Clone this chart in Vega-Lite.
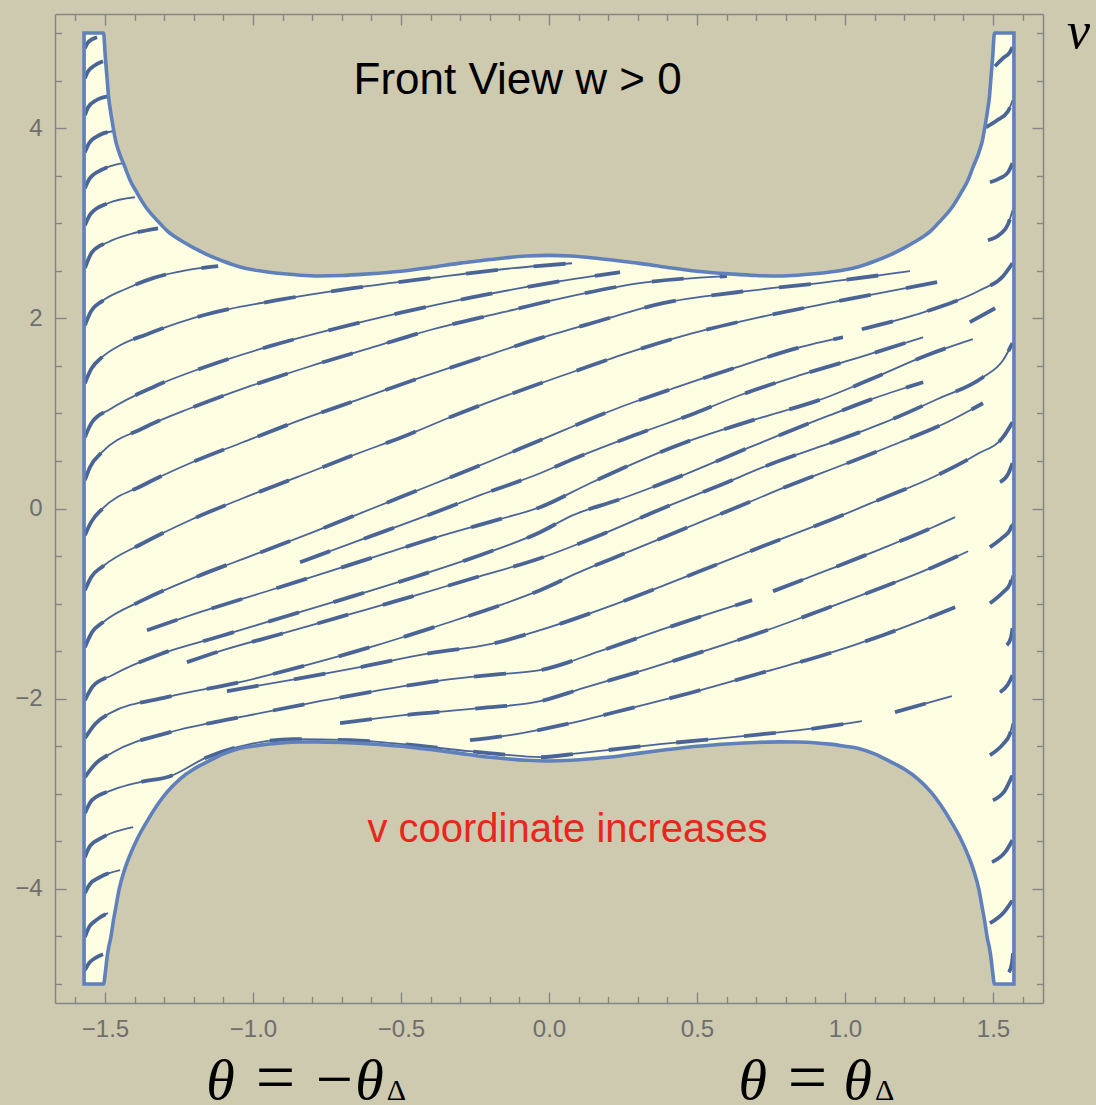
{
  "$schema": "https://vega.github.io/schema/vega-lite/v6.json",
  "width": 988,
  "height": 989,
  "autosize": {"type": "none"},
  "padding": {"left": 55, "top": 14, "right": 53, "bottom": 102},
  "background": "#cecab0",
  "config": {
    "view": {"stroke": null},
    "axis": {"grid": false, "title": null, "domainColor": "#858585", "domainWidth": 1.5, "tickColor": "#858585", "tickWidth": 1.4, "labelFont": "Liberation Sans", "labelFontSize": 24, "labelColor": "#6e6e6e", "labelOverlap": false, "labelFlush": false, "labelBound": false},
    "text": {"font": "Liberation Serif", "color": "#000000", "baseline": "alphabetic"}
  },
  "datasets": {
    "boundary": [
      {"t": -1.5708, "hi": 5, "lo": -5},
      {"t": -1.505, "hi": 5, "lo": -5},
      {"t": -1.499, "hi": 4.75, "lo": -4.88},
      {"t": -1.493, "hi": 4.52, "lo": -4.72},
      {"t": -1.488, "hi": 4.33, "lo": -4.62},
      {"t": -1.481, "hi": 4.17, "lo": -4.52},
      {"t": -1.472, "hi": 4.0, "lo": -4.34},
      {"t": -1.465, "hi": 3.88, "lo": -4.22},
      {"t": -1.452, "hi": 3.74, "lo": -4.0},
      {"t": -1.434, "hi": 3.6, "lo": -3.8},
      {"t": -1.415, "hi": 3.45, "lo": -3.64},
      {"t": -1.392, "hi": 3.32, "lo": -3.48},
      {"t": -1.36, "hi": 3.16, "lo": -3.3},
      {"t": -1.324, "hi": 3.03, "lo": -3.12},
      {"t": -1.29, "hi": 2.92, "lo": -2.98},
      {"t": -1.245, "hi": 2.82, "lo": -2.84},
      {"t": -1.2, "hi": 2.74, "lo": -2.74},
      {"t": -1.155, "hi": 2.67, "lo": -2.665},
      {"t": -1.1, "hi": 2.6, "lo": -2.58},
      {"t": -1.043, "hi": 2.54, "lo": -2.52},
      {"t": -1.0, "hi": 2.51, "lo": -2.5},
      {"t": -0.95, "hi": 2.487, "lo": -2.478},
      {"t": -0.896, "hi": 2.468, "lo": -2.463},
      {"t": -0.84, "hi": 2.453, "lo": -2.456},
      {"t": -0.78, "hi": 2.445, "lo": -2.454},
      {"t": -0.7, "hi": 2.45, "lo": -2.46},
      {"t": -0.615, "hi": 2.466, "lo": -2.473},
      {"t": -0.5, "hi": 2.495, "lo": -2.5},
      {"t": -0.4, "hi": 2.535, "lo": -2.535},
      {"t": -0.3, "hi": 2.58, "lo": -2.575},
      {"t": -0.232, "hi": 2.605, "lo": -2.605},
      {"t": -0.15, "hi": 2.635, "lo": -2.63},
      {"t": -0.075, "hi": 2.655, "lo": -2.648},
      {"t": 0, "hi": 2.662, "lo": -2.655},
      {"t": 0.075, "hi": 2.655, "lo": -2.648},
      {"t": 0.15, "hi": 2.635, "lo": -2.63},
      {"t": 0.232, "hi": 2.605, "lo": -2.605},
      {"t": 0.3, "hi": 2.58, "lo": -2.575},
      {"t": 0.4, "hi": 2.535, "lo": -2.535},
      {"t": 0.5, "hi": 2.495, "lo": -2.5},
      {"t": 0.615, "hi": 2.466, "lo": -2.473},
      {"t": 0.7, "hi": 2.45, "lo": -2.46},
      {"t": 0.78, "hi": 2.445, "lo": -2.454},
      {"t": 0.84, "hi": 2.453, "lo": -2.456},
      {"t": 0.896, "hi": 2.468, "lo": -2.463},
      {"t": 0.95, "hi": 2.487, "lo": -2.478},
      {"t": 1.0, "hi": 2.51, "lo": -2.5},
      {"t": 1.043, "hi": 2.54, "lo": -2.52},
      {"t": 1.1, "hi": 2.6, "lo": -2.58},
      {"t": 1.155, "hi": 2.67, "lo": -2.665},
      {"t": 1.2, "hi": 2.74, "lo": -2.74},
      {"t": 1.245, "hi": 2.82, "lo": -2.84},
      {"t": 1.29, "hi": 2.92, "lo": -2.98},
      {"t": 1.324, "hi": 3.03, "lo": -3.12},
      {"t": 1.36, "hi": 3.16, "lo": -3.3},
      {"t": 1.392, "hi": 3.32, "lo": -3.48},
      {"t": 1.415, "hi": 3.45, "lo": -3.64},
      {"t": 1.434, "hi": 3.6, "lo": -3.8},
      {"t": 1.452, "hi": 3.74, "lo": -4.0},
      {"t": 1.465, "hi": 3.88, "lo": -4.22},
      {"t": 1.472, "hi": 4.0, "lo": -4.34},
      {"t": 1.481, "hi": 4.17, "lo": -4.52},
      {"t": 1.488, "hi": 4.33, "lo": -4.62},
      {"t": 1.493, "hi": 4.52, "lo": -4.72},
      {"t": 1.499, "hi": 4.75, "lo": -4.88},
      {"t": 1.505, "hi": 5, "lo": -5},
      {"t": 1.5708, "hi": 5, "lo": -5}
    ],
    "streams": [
      {"s": "UA1", "t": -1.568, "v": 4.84}, {"s": "UA1", "t": -1.557, "v": 4.903}, {"s": "UA1", "t": -1.527, "v": 4.956},
      {"s": "UA2", "t": -1.568, "v": 4.525}, {"s": "UA2", "t": -1.557, "v": 4.598}, {"s": "UA2", "t": -1.534, "v": 4.661}, {"s": "UA2", "t": -1.507, "v": 4.703},
      {"s": "UA3", "t": -1.568, "v": 4.136}, {"s": "UA3", "t": -1.557, "v": 4.22}, {"s": "UA3", "t": -1.53, "v": 4.293}, {"s": "UA3", "t": -1.49, "v": 4.335},
      {"s": "UA4", "t": -1.568, "v": 3.747}, {"s": "UA4", "t": -1.554, "v": 3.841}, {"s": "UA4", "t": -1.52, "v": 3.925}, {"s": "UA4", "t": -1.473, "v": 3.967},
      {"s": "UA5", "t": -1.568, "v": 3.368}, {"s": "UA5", "t": -1.551, "v": 3.473}, {"s": "UA5", "t": -1.507, "v": 3.568}, {"s": "UA5", "t": -1.439, "v": 3.631},
      {"s": "UA6", "t": -1.568, "v": 2.979}, {"s": "UA6", "t": -1.547, "v": 3.105}, {"s": "UA6", "t": -1.49, "v": 3.21}, {"s": "UA6", "t": -1.399, "v": 3.273},
      {"s": "UA7", "t": -1.568, "v": 2.527}, {"s": "UA7", "t": -1.544, "v": 2.695}, {"s": "UA7", "t": -1.49, "v": 2.8}, {"s": "UA7", "t": -1.416, "v": 2.884}, {"s": "UA7", "t": -1.321, "v": 2.947},
      {"s": "B", "t": -1.568, "v": 1.927}, {"s": "B", "t": -1.547, "v": 2.075}, {"s": "B", "t": -1.51, "v": 2.18}, {"s": "B", "t": -1.432, "v": 2.306}, {"s": "B", "t": -1.338, "v": 2.422}, {"s": "B", "t": -1.223, "v": 2.506}, {"s": "B", "t": -1.118, "v": 2.548},
      {"s": "C", "t": -1.568, "v": 1.318}, {"s": "C", "t": -1.547, "v": 1.465}, {"s": "C", "t": -1.51, "v": 1.591}, {"s": "C", "t": -1.449, "v": 1.717}, {"s": "C", "t": -1.358, "v": 1.833}, {"s": "C", "t": -1.155, "v": 2.043}, {"s": "C", "t": -0.919, "v": 2.19}, {"s": "C", "t": -0.662, "v": 2.317}, {"s": "C", "t": -0.402, "v": 2.422}, {"s": "C", "t": -0.122, "v": 2.527}, {"s": "C", "t": 0.078, "v": 2.579},
      {"s": "D", "t": -1.568, "v": 0.75}, {"s": "D", "t": -1.544, "v": 0.907}, {"s": "D", "t": -1.483, "v": 1.044}, {"s": "D", "t": -1.338, "v": 1.276}, {"s": "D", "t": -1.155, "v": 1.496}, {"s": "D", "t": -0.943, "v": 1.707}, {"s": "D", "t": -0.73, "v": 1.885}, {"s": "D", "t": -0.493, "v": 2.064}, {"s": "D", "t": -0.257, "v": 2.222}, {"s": "D", "t": 0.037, "v": 2.39}, {"s": "D", "t": 0.24, "v": 2.485},
      {"s": "D2", "t": -1.568, "v": 0.298}, {"s": "D2", "t": -1.551, "v": 0.434}, {"s": "D2", "t": -1.51, "v": 0.592}, {"s": "D2", "t": -1.372, "v": 0.844}, {"s": "D2", "t": -1.203, "v": 1.065}, {"s": "D2", "t": -1.01, "v": 1.286}, {"s": "D2", "t": -0.807, "v": 1.496}, {"s": "D2", "t": -0.605, "v": 1.686}, {"s": "D2", "t": -0.392, "v": 1.885}, {"s": "D2", "t": -0.155, "v": 2.064}, {"s": "D2", "t": 0.014, "v": 2.19}, {"s": "D2", "t": 0.307, "v": 2.369}, {"s": "D2", "t": 0.601, "v": 2.443},
      {"s": "E", "t": -1.568, "v": -0.281}, {"s": "E", "t": -1.547, "v": -0.144}, {"s": "E", "t": -1.507, "v": 0.003}, {"s": "E", "t": -1.372, "v": 0.245}, {"s": "E", "t": -1.213, "v": 0.476}, {"s": "E", "t": -1.034, "v": 0.697}, {"s": "E", "t": -0.841, "v": 0.929}, {"s": "E", "t": -0.649, "v": 1.139}, {"s": "E", "t": -0.459, "v": 1.349}, {"s": "E", "t": -0.257, "v": 1.559}, {"s": "E", "t": -0.03, "v": 1.791}, {"s": "E", "t": 0.155, "v": 1.959}, {"s": "E", "t": 0.385, "v": 2.159}, {"s": "E", "t": 0.635, "v": 2.274}, {"s": "E", "t": 0.939, "v": 2.38}, {"s": "E", "t": 1.22, "v": 2.496},
      {"s": "F", "t": -1.568, "v": -0.859}, {"s": "F", "t": -1.547, "v": -0.722}, {"s": "F", "t": -1.507, "v": -0.607}, {"s": "F", "t": -1.372, "v": -0.365}, {"s": "F", "t": -1.213, "v": -0.123}, {"s": "F", "t": -1.034, "v": 0.108}, {"s": "F", "t": -0.851, "v": 0.329}, {"s": "F", "t": -0.662, "v": 0.56}, {"s": "F", "t": -0.48, "v": 0.771}, {"s": "F", "t": -0.301, "v": 1.002}, {"s": "F", "t": -0.122, "v": 1.212}, {"s": "F", "t": 0.078, "v": 1.433}, {"s": "F", "t": 0.274, "v": 1.644}, {"s": "F", "t": 0.486, "v": 1.843}, {"s": "F", "t": 0.713, "v": 2.012}, {"s": "F", "t": 0.959, "v": 2.169}, {"s": "F", "t": 1.311, "v": 2.38},
      {"s": "G", "t": -1.568, "v": -1.458}, {"s": "G", "t": -1.544, "v": -1.301}, {"s": "G", "t": -1.507, "v": -1.196}, {"s": "G", "t": -1.372, "v": -0.964}, {"s": "G", "t": -1.203, "v": -0.733}, {"s": "G", "t": -1.0, "v": -0.491}, {"s": "G", "t": -0.797, "v": -0.249}, {"s": "G", "t": -0.595, "v": 0.003}, {"s": "G", "t": -0.392, "v": 0.255}, {"s": "G", "t": -0.199, "v": 0.497}, {"s": "G", "t": -0.03, "v": 0.718}, {"s": "G", "t": 0.24, "v": 1.065}, {"s": "G", "t": 0.432, "v": 1.276}, {"s": "G", "t": 0.635, "v": 1.486}, {"s": "G", "t": 0.838, "v": 1.686}, {"s": "G", "t": 0.993, "v": 1.801},
      {"s": "G2", "t": 1.057, "v": 1.885}, {"s": "G2", "t": 1.277, "v": 2.075}, {"s": "G2", "t": 1.456, "v": 2.295}, {"s": "G2", "t": 1.534, "v": 2.443}, {"s": "G2", "t": 1.566, "v": 2.579},
      {"s": "X0", "t": -0.841, "v": -0.565}, {"s": "X0", "t": -0.639, "v": -0.333}, {"s": "X0", "t": -0.436, "v": -0.102}, {"s": "X0", "t": -0.233, "v": 0.14}, {"s": "X0", "t": -0.03, "v": 0.371}, {"s": "X0", "t": 0.088, "v": 0.529}, {"s": "X0", "t": 0.307, "v": 0.792}, {"s": "X0", "t": 0.493, "v": 1.002}, {"s": "X0", "t": 0.645, "v": 1.191}, {"s": "X0", "t": 0.848, "v": 1.402}, {"s": "X0", "t": 1.051, "v": 1.591}, {"s": "X0", "t": 1.264, "v": 1.801},
      {"s": "X0b", "t": 1.422, "v": 1.959}, {"s": "X0b", "t": 1.507, "v": 2.106},
      {"s": "I", "t": -1.358, "v": -1.28}, {"s": "I", "t": -1.179, "v": -1.09}, {"s": "I", "t": -0.953, "v": -0.87}, {"s": "I", "t": -0.75, "v": -0.67}, {"s": "I", "t": -0.571, "v": -0.491}, {"s": "I", "t": -0.368, "v": -0.291}, {"s": "I", "t": -0.166, "v": -0.112}, {"s": "I", "t": -0.03, "v": 0.014}, {"s": "I", "t": 0.139, "v": 0.266}, {"s": "I", "t": 0.453, "v": 0.687}, {"s": "I", "t": 0.689, "v": 0.929}, {"s": "I", "t": 0.939, "v": 1.17}, {"s": "I", "t": 1.095, "v": 1.37}, {"s": "I", "t": 1.277, "v": 1.612}, {"s": "I", "t": 1.432, "v": 1.78},
      {"s": "H", "t": -1.568, "v": -2.016}, {"s": "H", "t": -1.541, "v": -1.869}, {"s": "H", "t": -1.476, "v": -1.753}, {"s": "H", "t": -1.314, "v": -1.532}, {"s": "H", "t": -1.111, "v": -1.343}, {"s": "H", "t": -0.899, "v": -1.143}, {"s": "H", "t": -0.662, "v": -0.922}, {"s": "H", "t": -0.446, "v": -0.712}, {"s": "H", "t": -0.233, "v": -0.491}, {"s": "H", "t": -0.03, "v": -0.249}, {"s": "H", "t": 0.081, "v": -0.07}, {"s": "H", "t": 0.23, "v": 0.087}, {"s": "H", "t": 0.453, "v": 0.35}, {"s": "H", "t": 0.679, "v": 0.645}, {"s": "H", "t": 0.949, "v": 0.981}, {"s": "H", "t": 1.128, "v": 1.191}, {"s": "H", "t": 1.264, "v": 1.328},
      {"s": "J", "t": -1.223, "v": -1.616}, {"s": "J", "t": -1.101, "v": -1.49}, {"s": "J", "t": -0.909, "v": -1.322}, {"s": "J", "t": -0.696, "v": -1.132}, {"s": "J", "t": -0.459, "v": -0.922}, {"s": "J", "t": -0.257, "v": -0.733}, {"s": "J", "t": -0.03, "v": -0.523}, {"s": "J", "t": 0.172, "v": -0.281}, {"s": "J", "t": 0.385, "v": 0.003}, {"s": "J", "t": 0.578, "v": 0.245}, {"s": "J", "t": 0.757, "v": 0.476}, {"s": "J", "t": 0.949, "v": 0.687}, {"s": "J", "t": 1.128, "v": 0.897}, {"s": "J", "t": 1.311, "v": 1.149}, {"s": "J", "t": 1.466, "v": 1.381}, {"s": "J", "t": 1.534, "v": 1.559}, {"s": "J", "t": 1.566, "v": 1.738},
      {"s": "K", "t": -1.568, "v": -2.415}, {"s": "K", "t": -1.534, "v": -2.268}, {"s": "K", "t": -1.483, "v": -2.152}, {"s": "K", "t": -1.291, "v": -1.984}, {"s": "K", "t": -1.044, "v": -1.826}, {"s": "K", "t": -0.807, "v": -1.637}, {"s": "K", "t": -0.581, "v": -1.437}, {"s": "K", "t": -0.358, "v": -1.217}, {"s": "K", "t": -0.155, "v": -1.006}, {"s": "K", "t": -0.03, "v": -0.859}, {"s": "K", "t": 0.095, "v": -0.68}, {"s": "K", "t": 0.274, "v": -0.449}, {"s": "K", "t": 0.453, "v": -0.218}, {"s": "K", "t": 0.635, "v": 0.014}, {"s": "K", "t": 0.814, "v": 0.245}, {"s": "K", "t": 1.007, "v": 0.476}, {"s": "K", "t": 1.186, "v": 0.697}, {"s": "K", "t": 1.345, "v": 0.907}, {"s": "K", "t": 1.466, "v": 1.107},
      {"s": "Q", "t": -1.088, "v": -1.921}, {"s": "Q", "t": -0.875, "v": -1.805}, {"s": "Q", "t": -0.639, "v": -1.669}, {"s": "Q", "t": -0.402, "v": -1.522}, {"s": "Q", "t": -0.199, "v": -1.427}, {"s": "Q", "t": -0.03, "v": -1.28}, {"s": "Q", "t": 0.206, "v": -1.027}, {"s": "Q", "t": 0.399, "v": -0.796}, {"s": "Q", "t": 0.578, "v": -0.575}, {"s": "Q", "t": 0.757, "v": -0.354}, {"s": "Q", "t": 0.949, "v": -0.123}, {"s": "Q", "t": 1.128, "v": 0.108}, {"s": "Q", "t": 1.297, "v": 0.329}, {"s": "Q", "t": 1.446, "v": 0.571}, {"s": "Q", "t": 1.534, "v": 0.75}, {"s": "Q", "t": 1.566, "v": 0.907},
      {"s": "L", "t": -1.568, "v": -2.825}, {"s": "L", "t": -1.537, "v": -2.699}, {"s": "L", "t": -1.473, "v": -2.563}, {"s": "L", "t": -1.28, "v": -2.352}, {"s": "L", "t": -1.044, "v": -2.195}, {"s": "L", "t": -0.807, "v": -2.047}, {"s": "L", "t": -0.571, "v": -1.911}, {"s": "L", "t": -0.358, "v": -1.805}, {"s": "L", "t": -0.166, "v": -1.742}, {"s": "L", "t": -0.03, "v": -1.7}, {"s": "L", "t": 0.172, "v": -1.5}, {"s": "L", "t": 0.375, "v": -1.28}, {"s": "L", "t": 0.568, "v": -1.08}, {"s": "L", "t": 0.686, "v": -0.964},
      {"s": "L2", "t": 0.757, "v": -0.87}, {"s": "L2", "t": 0.949, "v": -0.638}, {"s": "L2", "t": 1.128, "v": -0.417}, {"s": "L2", "t": 1.297, "v": -0.197}, {"s": "L2", "t": 1.372, "v": -0.091},
      {"s": "R", "t": -0.706, "v": -2.258}, {"s": "R", "t": -0.459, "v": -2.163}, {"s": "R", "t": -0.233, "v": -2.1}, {"s": "R", "t": -0.03, "v": -2.026}, {"s": "R", "t": 0.115, "v": -1.89}, {"s": "R", "t": 0.331, "v": -1.69}, {"s": "R", "t": 0.534, "v": -1.49}, {"s": "R", "t": 0.736, "v": -1.28}, {"s": "R", "t": 0.939, "v": -1.048}, {"s": "R", "t": 1.118, "v": -0.838}, {"s": "R", "t": 1.297, "v": -0.617}, {"s": "R", "t": 1.416, "v": -0.449},
      {"s": "X2", "t": -0.267, "v": -2.436}, {"s": "X2", "t": -0.132, "v": -2.384}, {"s": "X2", "t": 0.027, "v": -2.289}, {"s": "X2", "t": 0.264, "v": -2.11}, {"s": "X2", "t": 0.486, "v": -1.932}, {"s": "X2", "t": 0.713, "v": -1.732}, {"s": "X2", "t": 0.926, "v": -1.543}, {"s": "X2", "t": 1.128, "v": -1.332}, {"s": "X2", "t": 1.372, "v": -1.038},
      {"s": "P", "t": -1.568, "v": -3.204}, {"s": "P", "t": -1.544, "v": -3.067}, {"s": "P", "t": -1.476, "v": -2.962}, {"s": "P", "t": -1.382, "v": -2.878}, {"s": "P", "t": -1.28, "v": -2.815}, {"s": "P", "t": -1.155, "v": -2.615}, {"s": "P", "t": -1.01, "v": -2.478}, {"s": "P", "t": -0.865, "v": -2.426}, {"s": "P", "t": -0.672, "v": -2.436}, {"s": "P", "t": -0.493, "v": -2.478}, {"s": "P", "t": -0.301, "v": -2.542}, {"s": "P", "t": -0.166, "v": -2.584}, {"s": "P", "t": -0.03, "v": -2.615}, {"s": "P", "t": 0.105, "v": -2.573}, {"s": "P", "t": 0.375, "v": -2.478}, {"s": "P", "t": 0.655, "v": -2.394}, {"s": "P", "t": 0.926, "v": -2.3}, {"s": "P", "t": 1.057, "v": -2.237},
      {"s": "P2", "t": 1.169, "v": -2.142}, {"s": "P2", "t": 1.361, "v": -1.974},
      {"s": "LA1", "t": -1.568, "v": -3.667}, {"s": "LA1", "t": -1.551, "v": -3.551}, {"s": "LA1", "t": -1.507, "v": -3.456}, {"s": "LA1", "t": -1.405, "v": -3.351},
      {"s": "LA2", "t": -1.568, "v": -4.045}, {"s": "LA2", "t": -1.551, "v": -3.951}, {"s": "LA2", "t": -1.517, "v": -3.877}, {"s": "LA2", "t": -1.449, "v": -3.803},
      {"s": "LA3", "t": -1.568, "v": -4.508}, {"s": "LA3", "t": -1.554, "v": -4.403}, {"s": "LA3", "t": -1.53, "v": -4.329}, {"s": "LA3", "t": -1.49, "v": -4.255},
      {"s": "LA4", "t": -1.568, "v": -4.855}, {"s": "LA4", "t": -1.554, "v": -4.781}, {"s": "LA4", "t": -1.534, "v": -4.729}, {"s": "LA4", "t": -1.507, "v": -4.687},
      {"s": "RA1", "t": 1.507, "v": 4.651}, {"s": "RA1", "t": 1.534, "v": 4.735}, {"s": "RA1", "t": 1.557, "v": 4.798}, {"s": "RA1", "t": 1.566, "v": 4.851},
      {"s": "RA2", "t": 1.476, "v": 4.009}, {"s": "RA2", "t": 1.514, "v": 4.083}, {"s": "RA2", "t": 1.551, "v": 4.178}, {"s": "RA2", "t": 1.566, "v": 4.293},
      {"s": "RA3", "t": 1.49, "v": 3.431}, {"s": "RA3", "t": 1.524, "v": 3.473}, {"s": "RA3", "t": 1.551, "v": 3.536}, {"s": "RA3", "t": 1.566, "v": 3.631},
      {"s": "RA4", "t": 1.483, "v": 2.821}, {"s": "RA4", "t": 1.524, "v": 2.884}, {"s": "RA4", "t": 1.551, "v": 2.99}, {"s": "RA4", "t": 1.566, "v": 3.137},
      {"s": "RB1", "t": 1.524, "v": 0.277}, {"s": "RB1", "t": 1.551, "v": 0.361}, {"s": "RB1", "t": 1.566, "v": 0.476},
      {"s": "RB2", "t": 1.49, "v": -0.407}, {"s": "RB2", "t": 1.534, "v": -0.302}, {"s": "RB2", "t": 1.557, "v": -0.228}, {"s": "RB2", "t": 1.566, "v": -0.155},
      {"s": "RB3", "t": 1.49, "v": -0.996}, {"s": "RB3", "t": 1.534, "v": -0.88}, {"s": "RB3", "t": 1.557, "v": -0.796}, {"s": "RB3", "t": 1.566, "v": -0.701},
      {"s": "RB4", "t": 1.547, "v": -1.437}, {"s": "RB4", "t": 1.561, "v": -1.353}, {"s": "RB4", "t": 1.566, "v": -1.259},
      {"s": "RB5", "t": 1.524, "v": -1.932}, {"s": "RB5", "t": 1.551, "v": -1.847}, {"s": "RB5", "t": 1.566, "v": -1.753},
      {"s": "RB6", "t": 1.49, "v": -2.594}, {"s": "RB6", "t": 1.534, "v": -2.478}, {"s": "RB6", "t": 1.557, "v": -2.373}, {"s": "RB6", "t": 1.566, "v": -2.258},
      {"s": "RB7", "t": 1.5, "v": -3.067}, {"s": "RB7", "t": 1.541, "v": -2.962}, {"s": "RB7", "t": 1.566, "v": -2.804},
      {"s": "RB8", "t": 1.497, "v": -3.719}, {"s": "RB8", "t": 1.541, "v": -3.614}, {"s": "RB8", "t": 1.566, "v": -3.488},
      {"s": "RB9", "t": 1.49, "v": -4.361}, {"s": "RB9", "t": 1.537, "v": -4.245}, {"s": "RB9", "t": 1.566, "v": -4.119},
      {"s": "RB10", "t": 1.554, "v": -4.876}, {"s": "RB10", "t": 1.564, "v": -4.781}, {"s": "RB10", "t": 1.568, "v": -4.676}
    ],
    "one": [{}]
  },
  "resolve": {"axis": {"x": "independent", "y": "independent"}},
  "layer": [
    {
      "data": {"name": "boundary"},
      "mark": {"type": "area", "interpolate": "monotone", "fill": "#fdfde1", "fillOpacity": 1, "strokeWidth": 0},
      "encoding": {
        "x": {
          "field": "t", "type": "quantitative",
          "scale": {"domain": [-1.669, 1.669], "nice": false, "zero": false},
          "axis": {
            "orient": "bottom",
            "values": [-1.6, -1.5, -1.4, -1.3, -1.2, -1.1, -1.0, -0.9, -0.8, -0.7, -0.6, -0.5, -0.4, -0.3, -0.2, -0.1, 0, 0.1, 0.2, 0.3, 0.4, 0.5, 0.6, 0.7, 0.8, 0.9, 1.0, 1.1, 1.2, 1.3, 1.4, 1.5, 1.6],
            "format": ".1f",
            "labelExpr": "abs(datum.value*2 - round(datum.value*2)) < 0.001 ? datum.label : ''",
            "tickSize": {"condition": {"test": "abs(datum.value*2 - round(datum.value*2)) < 0.001", "value": -11}, "value": -6.5},
            "labelPadding": 25
          }
        },
        "y": {
          "field": "hi", "type": "quantitative",
          "scale": {"domain": [-5.2, 5.2], "nice": false, "zero": false},
          "axis": {
            "orient": "left",
            "values": [-5, -4.5, -4, -3.5, -3, -2.5, -2, -1.5, -1, -0.5, 0, 0.5, 1, 1.5, 2, 2.5, 3, 3.5, 4, 4.5, 5],
            "format": ".0f",
            "labelExpr": "abs(datum.value/2 - round(datum.value/2)) < 0.001 ? datum.label : ''",
            "tickSize": {"condition": {"test": "abs(datum.value/2 - round(datum.value/2)) < 0.001", "value": -11}, "value": -6.5},
            "labelPadding": 24
          }
        },
        "y2": {"field": "lo"}
      }
    },
    {
      "data": {"name": "streams"},
      "mark": {"type": "line", "interpolate": "monotone", "color": "#4a6496", "strokeWidth": 1.8, "strokeCap": "butt"},
      "encoding": {
        "x": {"field": "t", "type": "quantitative", "axis": null},
        "y": {"field": "v", "type": "quantitative", "axis": null},
        "detail": {"field": "s"}
      }
    },
    {
      "data": {"name": "streams"},
      "mark": {"type": "line", "interpolate": "monotone", "color": "#4a6496", "strokeWidth": 3.8, "strokeCap": "butt", "strokeDash": [32, 36]},
      "encoding": {
        "x": {"field": "t", "type": "quantitative", "axis": null},
        "y": {"field": "v", "type": "quantitative", "axis": null},
        "detail": {"field": "s"}
      }
    },
    {
      "data": {"name": "boundary"},
      "mark": {"type": "area", "interpolate": "monotone", "fillOpacity": 0, "stroke": "#5f80ba", "strokeWidth": 3.6, "strokeJoin": "miter"},
      "encoding": {
        "x": {
          "field": "t", "type": "quantitative",
          "axis": {
            "orient": "top",
            "values": [-1.6, -1.5, -1.4, -1.3, -1.2, -1.1, -1.0, -0.9, -0.8, -0.7, -0.6, -0.5, -0.4, -0.3, -0.2, -0.1, 0, 0.1, 0.2, 0.3, 0.4, 0.5, 0.6, 0.7, 0.8, 0.9, 1.0, 1.1, 1.2, 1.3, 1.4, 1.5, 1.6],
            "labels": false,
            "tickSize": {"condition": {"test": "abs(datum.value*2 - round(datum.value*2)) < 0.001", "value": -11}, "value": -6.5}
          }
        },
        "y": {
          "field": "hi", "type": "quantitative",
          "axis": {
            "orient": "right",
            "values": [-5, -4.5, -4, -3.5, -3, -2.5, -2, -1.5, -1, -0.5, 0, 0.5, 1, 1.5, 2, 2.5, 3, 3.5, 4, 4.5, 5],
            "labels": false,
            "tickSize": {"condition": {"test": "abs(datum.value/2 - round(datum.value/2)) < 0.001", "value": -11}, "value": -6.5}
          }
        },
        "y2": {"field": "lo"}
      }
    },
    {
      "data": {"name": "one"},
      "mark": {"type": "text", "text": "Front View w > 0", "font": "Liberation Sans", "fontSize": 44, "align": "center"},
      "encoding": {"x": {"datum": -0.106, "type": "quantitative", "axis": null}, "y": {"datum": 4.364, "type": "quantitative", "axis": null}}
    },
    {
      "data": {"name": "one"},
      "mark": {"type": "text", "text": "v coordinate increases", "font": "Liberation Sans", "fontSize": 40, "color": "#e8261c", "align": "center"},
      "encoding": {"x": {"datum": 0.0625, "type": "quantitative", "axis": null}, "y": {"datum": -3.506, "type": "quantitative", "axis": null}}
    },
    {
      "data": {"name": "one"},
      "mark": {"type": "text", "text": "v", "fontStyle": "italic", "fontSize": 52, "align": "left"},
      "encoding": {"x": {"datum": 1.75, "type": "quantitative", "axis": null}, "y": {"datum": 4.838, "type": "quantitative", "axis": null}}
    },
    {
      "data": {"name": "one"},
      "mark": {"type": "text", "text": "θ", "fontStyle": "italic", "fontSize": 58, "align": "left"},
      "encoding": {"x": {"datum": -1.158, "type": "quantitative", "axis": null}, "y": {"datum": -6.21, "type": "quantitative", "axis": null}}
    },
    {
      "data": {"name": "one"},
      "mark": {"type": "text", "text": "=", "fontSize": 70, "align": "center"},
      "encoding": {"x": {"datum": -0.924, "type": "quantitative", "axis": null}, "y": {"datum": -6.228, "type": "quantitative", "axis": null}}
    },
    {
      "data": {"name": "one"},
      "mark": {"type": "text", "text": "−", "fontSize": 66, "align": "center"},
      "encoding": {"x": {"datum": -0.725, "type": "quantitative", "axis": null}, "y": {"datum": -6.228, "type": "quantitative", "axis": null}}
    },
    {
      "data": {"name": "one"},
      "mark": {"type": "text", "text": "θ", "fontStyle": "italic", "fontSize": 58, "align": "left"},
      "encoding": {"x": {"datum": -0.655, "type": "quantitative", "axis": null}, "y": {"datum": -6.21, "type": "quantitative", "axis": null}}
    },
    {
      "data": {"name": "one"},
      "mark": {"type": "text", "text": "Δ", "fontSize": 30, "align": "left"},
      "encoding": {"x": {"datum": -0.548, "type": "quantitative", "axis": null}, "y": {"datum": -6.216, "type": "quantitative", "axis": null}}
    },
    {
      "data": {"name": "one"},
      "mark": {"type": "text", "text": "θ", "fontStyle": "italic", "fontSize": 58, "align": "left"},
      "encoding": {"x": {"datum": 0.64, "type": "quantitative", "axis": null}, "y": {"datum": -6.21, "type": "quantitative", "axis": null}}
    },
    {
      "data": {"name": "one"},
      "mark": {"type": "text", "text": "=", "fontSize": 70, "align": "center"},
      "encoding": {"x": {"datum": 0.873, "type": "quantitative", "axis": null}, "y": {"datum": -6.228, "type": "quantitative", "axis": null}}
    },
    {
      "data": {"name": "one"},
      "mark": {"type": "text", "text": "θ", "fontStyle": "italic", "fontSize": 58, "align": "left"},
      "encoding": {"x": {"datum": 0.995, "type": "quantitative", "axis": null}, "y": {"datum": -6.21, "type": "quantitative", "axis": null}}
    },
    {
      "data": {"name": "one"},
      "mark": {"type": "text", "text": "Δ", "fontSize": 30, "align": "left"},
      "encoding": {"x": {"datum": 1.101, "type": "quantitative", "axis": null}, "y": {"datum": -6.216, "type": "quantitative", "axis": null}}
    }
  ]
}
